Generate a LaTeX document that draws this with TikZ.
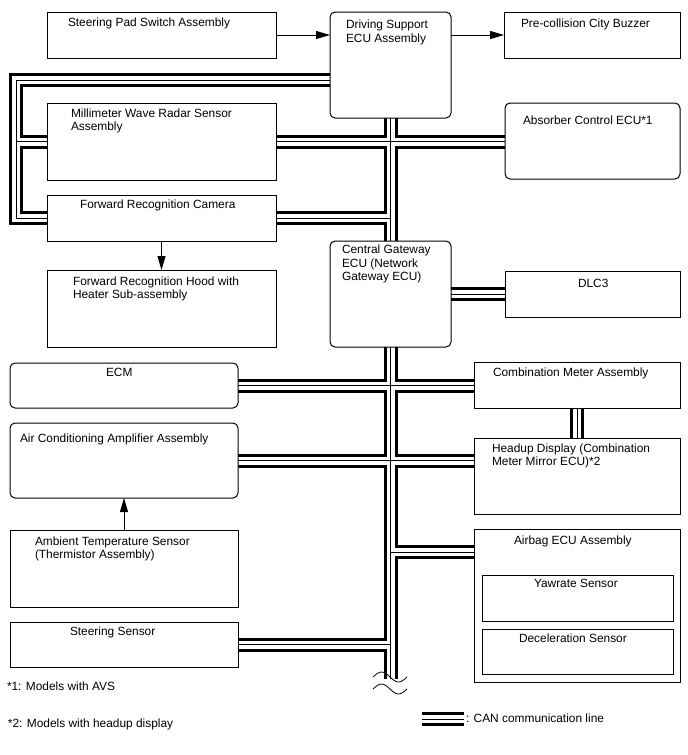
\documentclass[tikz,border=0pt]{standalone}
\usepackage{fontspec}
\setmainfont{Liberation Sans}
\usetikzlibrary{arrows.meta,calc}
\pgfdeclarelayer{background}
\pgfsetlayers{background,main}
\begin{document}
\begin{tikzpicture}[x=1pt,y=-1pt,
  box/.style={draw=black, line width=1pt, fill=white, inner sep=0pt, outer sep=0pt, anchor=north west},
  rbox/.style={box, rounded corners=5pt},
  lbl/.style={anchor=base west, inner sep=0pt, outer sep=0pt, align=left, font=\fontsize{11.9}{13.4}\selectfont},
  canbus/.style={line width=14pt, black, line join=miter, postaction={draw=white, line width=8pt}, postaction={draw=black, line width=1pt}},
  arr/.style={line width=1pt, -{Triangle[length=14pt,width=8pt]}},
  wave/.style={line width=0.8pt}]
\useasboundingbox (0,0) rectangle (688,755);

% boxes
\node[box,  minimum width=229pt, minimum height=46pt]  (pad) at (47,12) {};
\node[rbox, minimum width=121pt, minimum height=106pt] (dse) at (330,12) {};
\node[box,  minimum width=176pt, minimum height=46pt]  (pcb) at (504,12) {};
\node[box,  minimum width=229pt, minimum height=77pt]  (mmw) at (47,103) {};
\node[box,  minimum width=229pt, minimum height=46pt]  (frc) at (47,195) {};
\node[rbox, minimum width=175pt, minimum height=76pt]  (abs) at (505,103) {};
\node[box,  minimum width=229pt, minimum height=77pt]  (frh) at (47,270) {};
\node[rbox, minimum width=121pt, minimum height=106pt] (cgw) at (330,241) {};
\node[box,  minimum width=175pt, minimum height=46pt]  (dlc) at (505,271) {};
\node[rbox, minimum width=228pt, minimum height=45pt]  (ecm) at (10,363) {};
\node[rbox, minimum width=228pt, minimum height=75pt]  (aca) at (10,423) {};
\node[box,  minimum width=206pt, minimum height=46pt]  (cmb) at (474,362) {};
\node[box,  minimum width=206pt, minimum height=76pt]  (hud) at (474,438) {};
\node[box,  minimum width=228pt, minimum height=77pt]  (ats) at (10,530) {};
\node[box,  minimum width=228pt, minimum height=45pt]  (sts) at (10,622) {};
\node[box,  minimum width=206pt, minimum height=153pt] (abg) at (474,529) {};
\node[box,  minimum width=191pt, minimum height=46pt]  (yaw) at (482,575) {};
\node[box,  minimum width=191pt, minimum height=45pt]  (dec) at (482,629) {};

% labels (anchor = baseline of the last line)
\node[lbl] (padT) at (68,26) {Steering Pad Switch Assembly};
\node[lbl] (dseT) at (346,42) {Driving Support\\ECU Assembly};
\node[lbl] (pcbT) at (521,27) {Pre-collision City Buzzer};
\node[lbl] (mmwT) at (71,130.4) {Millimeter Wave Radar Sensor\\Assembly};
\node[lbl] (frcT) at (80,208.6) {Forward Recognition Camera};
\node[lbl] (absT) at (523,124.6) {Absorber Control ECU*1};
\node[lbl] (frhT) at (73,298.7) {Forward Recognition Hood with\\Heater Sub-assembly};
\node[lbl] (cgwT) at (342,280.4) {Central Gateway\\ECU (Network\\Gateway ECU)};
\node[lbl] (dlcT) at (578,287) {DLC3};
\node[lbl] (ecmT) at (106,376) {ECM};
\node[lbl] (acaT) at (20,442.6) {Air Conditioning Amplifier Assembly};
\node[lbl] (cmbT) at (493,376) {Combination Meter Assembly};
\node[lbl] (hudT) at (492,465.4) {Headup Display (Combination\\Meter Mirror ECU)*2};
\node[lbl] (atsT) at (35,558.7) {Ambient Temperature Sensor\\(Thermistor Assembly)};
\node[lbl] (stsT) at (70,635.3) {Steering Sensor};
\node[lbl] (abgT) at (514,544.6) {Airbag ECU Assembly};
\node[lbl] (yawT) at (534,587.6) {Yawrate Sensor};
\node[lbl] (decT) at (519,642) {Deceleration Sensor};
\node[lbl] (fn1) at (7,690.3) {*1: Models with AVS};
\node[lbl] (fn2) at (8,727) {*2: Models with headup display};
\node[lbl] (legT) at (466,722) {: CAN communication line};

% coordinates
\coordinate (lc1) at (16,80);
\coordinate (lc2) at (16,218);
\coordinate (busend) at (390.5,679);
\coordinate (abgin) at (474,552);
\coordinate (leg1) at (422,719);
\coordinate (leg2) at (464,719);

% CAN bus
\begin{pgfonlayer}{background}
\draw[canbus]
  (dse.south) -- (cgw.north)
  (mmw.east) -- (mmw.east -| abs.west)
  (frc.east) -- (frc.east -| dse.south)
  ([yshift=-15pt]dse.west) -- (lc1) -- (lc2) -- (frc.west)
  (mmw.west) -- (mmw.west -| lc1)
  (cgw.east) -- (cgw.east -| dlc.west)
  (cgw.south) -- (busend)
  (ecm.east) -- (ecm.east -| cmb.west)
  (aca.east) -- (aca.east -| hud.west)
  (cmb.south) -- (hud.north)
  (abgin -| cgw.south) -- (abgin)
  (sts.east) -- (sts.east -| cgw.south);
\draw[canbus] (leg1) -- (leg2);
\end{pgfonlayer}

% break mark
\draw[wave] (373,677) sin (381.5,672) cos (390,677) sin (398.5,682) cos (407,677);
\draw[wave] (373,689) sin (381.5,684) cos (390,689) sin (398.5,694) cos (407,689);

% arrows
\draw[arr] (pad.east) -- (pad.east -| dse.west);
\draw[arr] (pcb.west -| dse.east) -- (pcb.west);
\draw[arr] (frc.south) -- (frh.north);
\draw[arr] (ats.north) -- (aca.south);
\end{tikzpicture}
\end{document}
